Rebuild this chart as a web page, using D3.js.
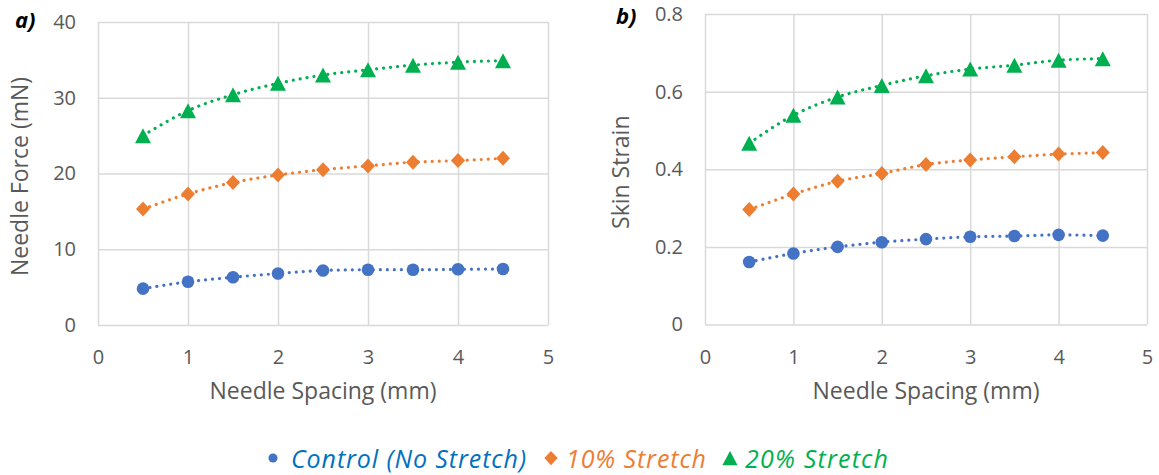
<!DOCTYPE html>
<html>
<head>
<meta charset="utf-8">
<script src="https://cdn.jsdelivr.net/npm/d3@7"></script>
<style>
  html, body { margin: 0; padding: 0; background: #fff; }
  svg { display: block; }
  text { font-family: "Open Sans", "Noto Sans", sans-serif; }
</style>
</head>
<body>
<svg id="chart" width="1159" height="475"></svg>
<script>
// Needle spacing (mm) shared by both panels
const spacing = [0.5, 1, 1.5, 2, 2.5, 3, 3.5, 4, 4.5];

// Panel a) needle force (mN)
const forceControl = [4.8, 5.7, 6.3, 6.8, 7.2, 7.3, 7.3, 7.35, 7.4];
const force10 = [15.3, 17.3, 18.8, 19.8, 20.5, 21.0, 21.5, 21.7, 22.0];
const force20 = [25.0, 28.3, 30.4, 31.9, 33.0, 33.7, 34.3, 34.7, 34.9];

// Panel b) skin strain
const strainControl = [0.161, 0.183, 0.200, 0.212, 0.220, 0.226, 0.228, 0.231, 0.229];
const strain10 = [0.296, 0.336, 0.369, 0.389, 0.412, 0.424, 0.432, 0.439, 0.443];
const strain20 = [0.467, 0.539, 0.586, 0.616, 0.641, 0.658, 0.668, 0.681, 0.685];

// Axis ticks
const xTicks = [0, 1, 2, 3, 4, 5];
const forceTicks = [0, 10, 20, 30, 40];
const strainTicks = [0, 0.2, 0.4, 0.6, 0.8];

// Series names
const seriesNames = ["Control (No Stretch)", "10% Stretch", "20% Stretch"];

const colors = ["#4472C4", "#ED7D31", "#00B050"];
const legendColors = ["#0070C0", "#ED7D31", "#00B050"];
const gridColor = "#D9D9D9";
const labelColor = "#595959";

const svg = d3.select("#chart");

// marker shapes (circle drawn separately)
const markerPath = [
  null,
  "M0,-7.5L7,0L0,7.5L-7,0Z",
  "M0,-7.5L8,7.5L-8,7.5Z"
];

function drawMarker(g, kind, x, y, color, scale) {
  const s = scale || 1;
  if (kind === 0) {
    g.append("circle").attr("cx", x).attr("cy", y).attr("r", 6.3 * s).attr("fill", color);
  } else {
    g.append("path").attr("d", markerPath[kind])
      .attr("transform", `translate(${x},${y}) scale(${s})`)
      .attr("fill", color);
  }
}

function panel(opts) {
  const { x0, x1, y0, y1, yMax, yTicks, yFmt, series, yTitle, yTitleX, tag, tagX, tagY } = opts;
  const g = svg.append("g");
  const x = d3.scaleLinear().domain([0, 5]).range([x0, x1]);
  const y = d3.scaleLinear().domain([0, yMax]).range([y0, y1]);

  // gridlines
  const gx = g.append("g").attr("transform", `translate(0,${y0})`)
    .call(d3.axisBottom(x).tickValues(xTicks).tickSize(-(y0 - y1)).tickFormat(""));
  const gy = g.append("g").attr("transform", `translate(${x0},0)`)
    .call(d3.axisLeft(y).tickValues(yTicks).tickSize(-(x1 - x0)).tickFormat(""));
  [gx, gy].forEach(a => {
    a.select(".domain").remove();
    a.selectAll("line").attr("stroke", gridColor).attr("stroke-width", 1.5);
  });

  // tick labels
  g.append("g").attr("transform", `translate(0,${y0 + 32})`)
    .call(d3.axisBottom(x).tickValues(xTicks).tickSize(0).tickPadding(0).tickFormat(d3.format("d")))
    .call(a => a.select(".domain").remove())
    .selectAll("text").attr("fill", labelColor).attr("font-size", 20)
    .attr("font-family", "Open Sans").attr("dy", "0.35em").attr("y", 0);
  g.append("g").attr("transform", `translate(${x0 - 22},0)`)
    .call(d3.axisLeft(y).tickValues(yTicks).tickSize(0).tickPadding(0).tickFormat(yFmt))
    .call(a => a.select(".domain").remove())
    .selectAll("text").attr("fill", labelColor).attr("font-size", 20)
    .attr("font-family", "Open Sans");

  // axis titles
  g.append("text").attr("x", (x0 + x1) / 2).attr("y", 399)
    .attr("text-anchor", "middle")
    .attr("fill", labelColor).attr("font-size", 23).text("Needle Spacing (mm)");
  g.append("text")
    .attr("transform", `translate(${yTitleX},${(y0 + y1) / 2 + 3}) rotate(-90)`)
    .attr("text-anchor", "middle")
    .attr("fill", labelColor).attr("font-size", 23).text(yTitle);

  // panel tag
  g.append("text").attr("x", tagX).attr("y", tagY)
    .attr("font-size", 22).attr("font-weight", "bold").attr("font-style", "italic")
    .attr("fill", "#000").text(tag);

  // series
  const line = d3.line().x(d => x(d[0])).y(d => y(d[1])).curve(d3.curveMonotoneX);
  series.forEach((vals, i) => {
    const pts = spacing.map((s, k) => [s, vals[k]]);
    g.append("path").datum(pts).attr("d", line)
      .attr("fill", "none").attr("stroke", colors[i]).attr("stroke-width", 3.2)
      .attr("stroke-linecap", "round").attr("stroke-dasharray", "0.01 7");
    const mg = g.append("g");
    pts.forEach(p => drawMarker(mg, i, x(p[0]), y(p[1]), colors[i]));
  });
}

const fmt1 = d => d === 0 ? "0" : d3.format(".1f")(d);

panel({
  x0: 98, x1: 548, y0: 325, y1: 22, yMax: 40, yTicks: forceTicks, yFmt: d3.format("d"),
  series: [forceControl, force10, force20], yTitle: "Needle Force (mN)", yTitleX: 28,
  tag: "a)", tagX: 15, tagY: 28
});
panel({
  x0: 705, x1: 1147, y0: 324.5, y1: 14, yMax: 0.8, yTicks: strainTicks, yFmt: fmt1,
  series: [strainControl, strain10, strain20], yTitle: "Skin Strain", yTitleX: 629,
  tag: "b)", tagX: 616, tagY: 24
});

// legend: marker followed by italic label
const legendItems = [
  { x: 273, tx: 291, w: 235 },
  { x: 551, tx: 566, w: 140 },
  { x: 730, tx: 745, w: 143 }
];
const legend = svg.append("g");
seriesNames.forEach((name, i) => {
  const it = legendItems[i];
  drawMarker(legend, i, it.x, 458, colors[i], i === 0 ? 0.72 : 0.95);
  legend.append("text").attr("x", it.tx).attr("y", 468)
    .attr("font-size", 25).attr("font-style", "italic").attr("fill", legendColors[i])
    .attr("textLength", it.w).attr("lengthAdjust", "spacing")
    .text(name);
});
</script>
</body>
</html>
